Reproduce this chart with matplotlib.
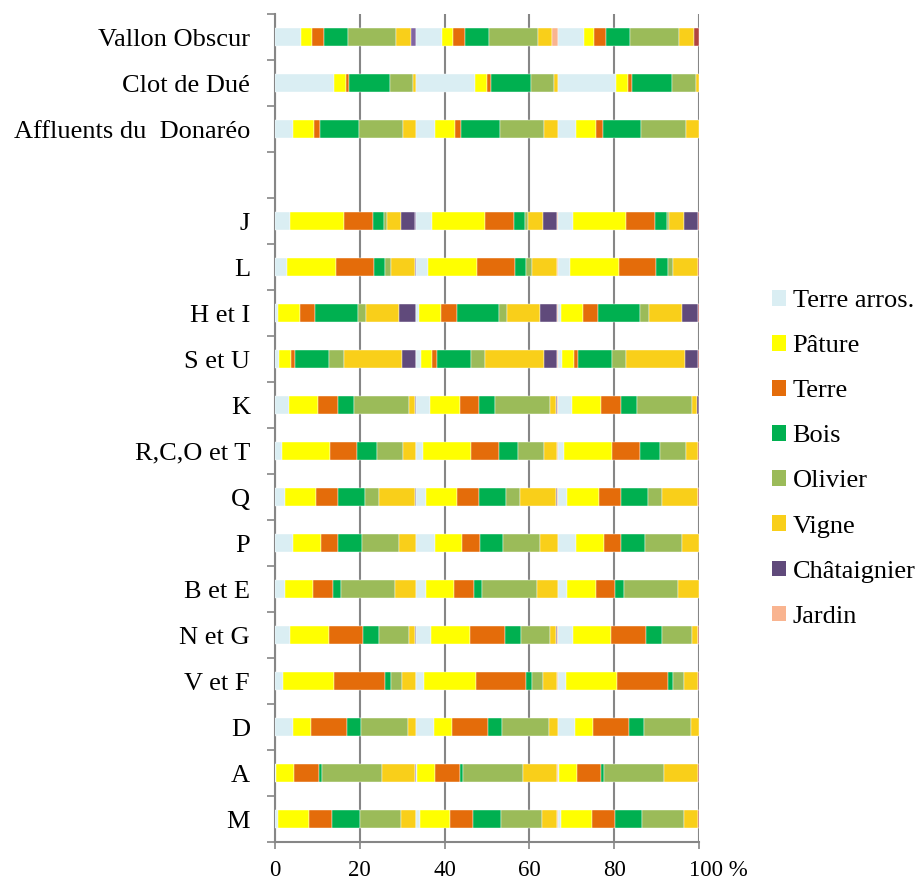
import numpy as np
import matplotlib
matplotlib.use("Agg")
import matplotlib.pyplot as plt
from matplotlib.patches import Patch
from matplotlib.transforms import ScaledTranslation

plt.rcParams['font.family'] = ['Liberation Serif', 'DejaVu Serif']

rows = ["Vallon Obscur", "Clot de Dué", "Affluents du  Donaréo", "",
        "J", "L", "H et I", "S et U", "K", "R,C,O et T", "Q", "P",
        "B et E", "N et G", "V et F", "D", "A", "M"]

# land use shares (% of each block), rows top to bottom
terre_arros = [18.4, 41.6, 13.0, 0, 10.9, 8.5, 2.1, 3.1, 9.9, 4.7, 6.9, 13.0, 6.9, 10.6, 5.7, 12.5, 0.7, 2.4]
pature      = [7.6, 8.3, 14.4, 0, 37.6, 34.5, 15.6, 8.3, 20.6, 34.0, 22.0, 19.6, 19.9, 27.4, 36.2, 12.8, 12.8, 21.7]
terre       = [8.5, 2.8, 4.5, 0, 20.6, 26.7, 10.9, 3.1, 13.9, 19.6, 15.6, 12.1, 13.9, 24.3, 35.9, 25.3, 17.5, 16.3]
bois        = [17.0, 28.4, 27.4, 0, 8.0, 8.0, 30.0, 23.9, 11.3, 13.9, 19.1, 16.8, 5.9, 11.3, 4.0, 10.2, 2.1, 19.4]
olivier     = [34.3, 16.5, 31.2, 0, 1.9, 4.0, 5.7, 10.2, 39.0, 18.2, 9.9, 26.2, 38.5, 21.0, 7.8, 33.3, 42.3, 29.3]
vigne       = [10.4, 2.4, 9.5, 0, 10.4, 17.5, 23.4, 41.4, 4.0, 9.0, 25.3, 12.3, 14.9, 4.3, 9.9, 5.9, 23.9, 10.4]
chataignier = [0, 0, 0, 0, 9.9, 0, 11.8, 9.5, 0.8, 0, 0.5, 0, 0, 0.5, 0, 0, 0, 0]
jardin      = [3.8, 0, 0, 0, 0.7, 0.7, 0.5, 0.5, 0.3, 0.5, 0.5, 0, 0, 0.4, 0.5, 0, 0.7, 0.5]

labels = ["Terre arros.", "Pâture", "Terre", "Bois", "Olivier", "Vigne",
          "Châtaignier", "Jardin"]
colors = ["#DAEEF3", "#FFFF00", "#E46C0A", "#00B050", "#9BBB59", "#F9CF1A",
          "#604A7B", "#F9B490"]
# the last series gets a different colour in each of the three blocks
jardin_block_colors = ["#8064A2", "#F9B490", "#B0443F"]

data = np.array([terre_arros, pature, terre, bois, olivier, vigne,
                 chataignier, jardin], dtype=float)
tot = data.sum(axis=0)
tot[tot == 0] = 1
shares = data / tot * 100 / 3  # three blocks per bar

fig = plt.figure(figsize=(9.17, 8.83), dpi=100)
ax = fig.add_axes([275 / 917, 1 - 842 / 883, (699 - 275) / 917, (842 - 14) / 883])

y = np.arange(len(rows))
for b in range(3):
    left = np.full(len(rows), b * 100 / 3)
    for i in range(len(labels)):
        c = jardin_block_colors[b] if i == 7 else colors[i]
        m = shares[i] > 0
        ax.barh(y[m], shares[i][m], left=left[m], height=0.41, color=c,
                edgecolor="white", linewidth=0.3, zorder=3)
        left = left + shares[i]

ax.set_xlim(0, 100)
ax.set_ylim(len(rows) - 0.5, -0.5)

ax.set_xticks([0, 20, 40, 60, 80, 100])
ax.set_xticklabels(["0", "20", "40", "60", "80", "100 %"], fontsize=16.5)
ax.grid(axis="x", color="#868686", linewidth=1.5, zorder=1)
ax.tick_params(axis="x", length=5, width=1.2, color="#868686", pad=8)
last = ax.get_xticklabels()[-1]
last.set_ha("left")
last.set_transform(last.get_transform() + ScaledTranslation(-0.10, 0, fig.dpi_scale_trans))

ax.set_yticks(y)
ax.set_yticklabels(rows, fontsize=19)
ax.tick_params(axis="y", length=0, pad=18)
ax.set_yticks(np.arange(len(rows) + 1) - 0.5, minor=True)
ax.tick_params(axis="y", which="minor", length=6, width=1.2, color="#868686")

for s in ["top", "right"]:
    ax.spines[s].set_visible(False)
for s in ["left", "bottom"]:
    ax.spines[s].set_color("#868686")
    ax.spines[s].set_linewidth(1.5)

handles = [Patch(facecolor=c, edgecolor="none") for c in colors]
fig.legend(handles, labels, loc="upper left",
           bbox_to_anchor=(772 / 917, 1 - 290 / 883), frameon=False,
           fontsize=19, handlelength=0.53, handleheight=0.53,
           handletextpad=0.25, labelspacing=0.87, borderpad=0, borderaxespad=0)

fig.savefig("out.png", dpi=100)
